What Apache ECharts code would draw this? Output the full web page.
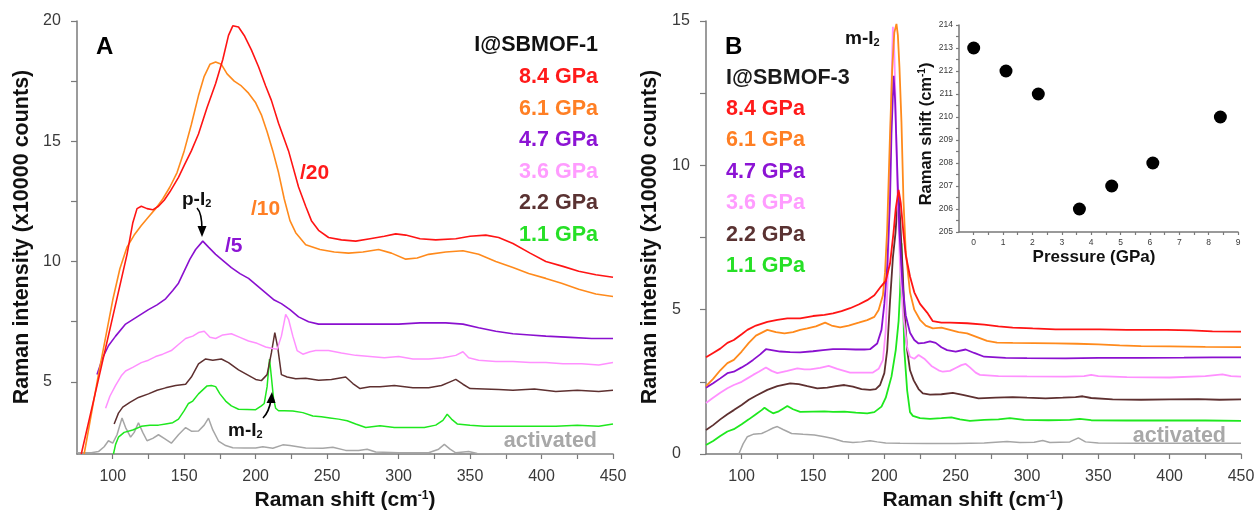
<!DOCTYPE html>
<html>
<head>
<meta charset="utf-8">
<script src="https://cdn.jsdelivr.net/npm/echarts@6/dist/echarts.min.js"></script>
<style>
html,body{margin:0;padding:0;background:#fff;}
#c{width:1259px;height:513px;}
</style>
</head>
<body>
<div id="c"></div>
<script>
// ---------- Panel A : I@SBMOF-1 (Raman shift cm-1, intensity x10000 counts) ----------
const A_84 = [[78,2.0],[90,5.1],[100,7.7],[110,10.3],[114,11.6],[117,12.2],[120,12.3],[124,12.2],[128,12.15],[132,12.3],[136,12.55],[140,12.9],[146,13.5],[150,14.0],[155,14.6],[160,15.3],[166,16.4],[172,17.4],[177,18.4],[181,19.4],[184,19.8],[188,19.75],[192,19.4],[197,18.8],[202,18.1],[207,17.3],[211,16.7],[216,15.75],[223,14.6],[230,13.1],[235,12.3],[239,11.7],[244,11.3],[251,11.0],[260,10.9],[270,10.85],[280,10.95],[290,11.05],[298,11.15],[305,11.1],[315,10.95],[326,10.9],[340,10.95],[350,11.05],[361,11.1],[370,11.0],[380,10.75],[392,10.35],[403,10.0],[415,9.8],[426,9.6],[438,9.45],[450,9.35]];
const A_61 = [[80,2.0],[90,5.3],[100,8.4],[105,9.7],[110,10.6],[115,11.1],[120,11.5],[125,11.85],[130,12.2],[135,12.6],[140,13.1],[145,13.7],[150,14.6],[155,15.7],[160,16.9],[164,17.7],[168,18.2],[172,18.3],[176,18.2],[180,17.8],[185,17.5],[190,17.3],[195,17.0],[200,16.6],[204,16.1],[208,15.4],[212,14.6],[216,13.7],[220,12.6],[224,11.7],[228,11.2],[235,10.7],[245,10.5],[255,10.4],[265,10.35],[275,10.4],[286,10.5],[295,10.35],[305,10.1],[313,10.15],[321,10.3],[333,10.4],[345,10.45],[356,10.3],[368,10.0],[380,9.75],[391,9.5],[403,9.3],[414,9.1],[426,8.85],[438,8.65],[450,8.55]];
const A_47 = [[89,5.3],[93,6.0],[97,6.5],[102,6.9],[109,7.4],[117,7.7],[125,8.0],[131,8.2],[137,8.45],[142,8.8],[146,9.1],[150,9.6],[154,10.1],[158,10.5],[163,10.85],[167,10.6],[172,10.3],[178,10.0],[183,9.75],[189,9.5],[195,9.3],[201,9.0],[207,8.7],[213,8.4],[218,8.25],[224,8.0],[230,7.7],[237,7.5],[244,7.4],[255,7.4],[270,7.4],[286,7.4],[300,7.4],[315,7.45],[333,7.45],[345,7.4],[356,7.25],[368,7.1],[380,7.0],[392,6.95],[403,6.9],[420,6.85],[435,6.8],[450,6.8]];
const A_36 = [[95,3.9],[98,4.4],[102,4.85],[106,5.25],[109,5.45],[114,5.6],[120,5.8],[125,5.9],[130,6.05],[135,6.15],[141,6.3],[146,6.55],[151,6.8],[156,6.9],[160,7.05],[164,7.1],[168,6.85],[172,6.8],[177,6.95],[183,7.0],[189,6.85],[195,6.7],[201,6.6],[207,6.45],[211,6.4],[215,6.35],[218,6.9],[221,7.8],[223,7.6],[226,6.9],[229,6.3],[233,6.15],[238,6.25],[242,6.3],[251,6.3],[260,6.2],[270,6.1],[280,6.05],[290,6.0],[300,6.05],[310,5.95],[321,5.95],[331,6.0],[340,6.1],[345,6.25],[349,6.0],[356,5.9],[368,5.85],[380,5.85],[392,5.8],[403,5.8],[415,5.75],[428,5.75],[440,5.7],[450,5.8]];
const A_22 = [[101,3.25],[104,3.7],[107,3.95],[112,4.15],[118,4.35],[125,4.5],[131,4.65],[137,4.75],[144,4.85],[151,4.9],[155,5.2],[160,5.75],[165,5.95],[170,5.9],[176,5.95],[181,5.8],[188,5.5],[194,5.3],[200,5.1],[204,5.05],[208,5.3],[211,6.2],[213.4,7.05],[215.5,6.4],[218,5.3],[222,5.2],[228,5.13],[235,5.15],[244,5.07],[253,5.1],[263,5.2],[268,4.93],[273,4.72],[280,4.8],[287,4.8],[297,4.85],[310,4.75],[321,4.75],[330,4.85],[336,5.0],[340,5.1],[345,4.9],[350,4.72],[360,4.7],[370,4.68],[380,4.65],[395,4.7],[410,4.6],[425,4.65],[440,4.6],[450,4.65]];
const A_11 = [[100.5,2.0],[102,2.4],[104,2.7],[108,2.9],[114,3.0],[120,3.15],[126,3.2],[132,3.2],[137,3.25],[142,3.3],[146,3.45],[150,3.8],[153,4.1],[156,4.2],[160,4.5],[166,4.83],[169,4.85],[172,4.8],[175,4.5],[179,4.2],[183,4.0],[188,3.86],[194,3.85],[200,3.84],[204,4.0],[206,4.1],[208,4.8],[209.7,5.95],[211,5.2],[212.5,4.3],[214,3.9],[216,3.8],[220,3.8],[226,3.79],[233,3.72],[240,3.58],[246,3.55],[252,3.5],[258,3.45],[264,3.38],[270,3.25],[277,3.1],[287,3.17],[297,3.1],[309,3.1],[318,3.1],[326,3.2],[331,3.4],[334,3.65],[337,3.45],[341,3.25],[350,3.2],[360,3.15],[370,3.15],[380,3.15],[395,3.15],[410,3.15],[425,3.2],[440,3.15],[450,3.25]];
const A_act = [[75,2.05],[85,2.05],[90,2.1],[94,2.3],[97,2.55],[100,2.45],[103,2.8],[106.5,3.5],[109,3.1],[112.5,2.7],[115,2.9],[118,3.3],[121,2.9],[124,2.55],[128,2.65],[132,2.8],[136,2.65],[141,2.45],[146,2.8],[151,3.1],[155,2.95],[160,2.96],[164,3.2],[167,3.49],[170,3.0],[174,2.54],[179,2.35],[184,2.26],[192,2.25],[200,2.25],[205,2.3],[212,2.24],[219,2.38],[224,2.35],[235,2.25],[247,2.24],[254,2.28],[263,2.15],[272,2.15],[278,2.2],[284,2.08],[300,2.05],[321,2.05],[328,2.2],[332,2.4],[336,2.2],[340,2.05],[349,2.1],[355,2.02],[370,2.0],[450,2.0]];

// ---------- Panel B : I@SBMOF-3 ----------
const B_84 = [[75,3.35],[80,3.5],[85,3.65],[90,3.85],[94.5,3.95],[100,4.15],[104,4.3],[110,4.45],[118,4.58],[125,4.65],[132,4.7],[141,4.7],[150,4.78],[158,4.82],[164,4.87],[170,4.95],[176,5.05],[182,5.18],[188,5.33],[193,5.5],[197.6,5.8],[201,6.0],[204,6.6],[206.4,7.65],[208,8.5],[210,9.15],[211.5,8.7],[213.4,7.65],[215,6.9],[218,6.15],[221,5.6],[225,5.2],[230,4.9],[234,4.6],[240,4.55],[246,4.55],[258,4.53],[270,4.48],[280,4.42],[290,4.38],[304,4.35],[320,4.32],[335,4.32],[351,4.32],[370,4.3],[385,4.3],[398,4.3],[415,4.28],[430,4.25],[450,4.24]];
const B_61 = [[75,2.35],[80,2.6],[85,2.9],[90,3.15],[94.5,3.26],[100,3.55],[105,3.85],[110,4.1],[118,4.3],[124,4.22],[130,4.18],[136,4.22],[141,4.3],[146,4.35],[152,4.42],[158.5,4.55],[163,4.45],[169,4.39],[175,4.45],[182,4.55],[188,4.64],[193,4.75],[196,4.99],[199,5.5],[200.5,6.3],[202,7.8],[204,11.1],[205.5,13.3],[207,14.6],[208.5,14.9],[209.5,14.5],[210.6,13.4],[212,11.5],[213.4,8.8],[215,7.0],[218,5.6],[221,5.0],[225,4.65],[229,4.45],[234,4.35],[240,4.38],[246,4.3],[252,4.22],[258,4.18],[265,4.05],[272,3.92],[279,3.86],[290,3.85],[305,3.84],[320,3.83],[335,3.82],[350,3.8],[365,3.76],[380,3.74],[400,3.73],[425,3.71],[450,3.7]];
const B_47 = [[75,2.3],[80,2.45],[85,2.62],[90,2.8],[94.5,2.85],[100,3.0],[104,3.12],[108,3.26],[113,3.45],[117,3.63],[121,3.6],[127,3.55],[134,3.53],[141,3.52],[150,3.56],[157,3.6],[164,3.63],[172,3.63],[180,3.62],[186,3.62],[190,3.63],[195,3.83],[198,4.3],[200,5.2],[202,6.5],[204,8.8],[205,11.1],[206.5,13.1],[207.5,12.3],[209,9.95],[210.5,7.8],[212.7,5.9],[215,4.8],[218,4.2],[221,3.95],[224,3.83],[228,3.85],[232,3.9],[236,3.85],[240,3.7],[244,3.6],[250,3.55],[257,3.62],[263,3.5],[270,3.37],[285,3.33],[300,3.32],[327,3.31],[350,3.33],[380,3.33],[410,3.34],[430,3.35],[450,3.35]];
const B_36 = [[75,1.77],[80,1.95],[85,2.12],[90,2.28],[94.5,2.39],[100,2.5],[104,2.62],[108,2.74],[112,2.85],[117,3.0],[121,2.88],[125,2.8],[132,2.88],[139,2.97],[144,2.93],[148,2.93],[155,2.98],[161,3.05],[167,2.95],[176,2.82],[184,2.82],[192,2.82],[196,2.95],[199,3.25],[201,4.3],[202.5,6.2],[204,9.95],[205.2,13.2],[206,14.8],[207,13.9],[207.8,12.3],[209,9.3],[211,6.5],[213,4.9],[216,3.7],[218,3.37],[221,3.3],[224,3.43],[228,3.3],[233,3.05],[238,2.9],[241,2.85],[246,2.88],[250,2.98],[254,3.08],[257,3.12],[260,3.0],[264,2.82],[267,2.74],[280,2.7],[300,2.69],[327,2.68],[340,2.7],[345,2.74],[350,2.7],[370,2.66],[400,2.65],[425,2.7],[437,2.76],[443,2.7],[450,2.68]];
const B_22 = [[75,0.83],[80,1.0],[85,1.2],[90,1.38],[94.5,1.52],[100,1.7],[105,1.88],[110,2.02],[118,2.22],[125,2.35],[134,2.45],[140,2.42],[146,2.35],[153,2.27],[160,2.3],[166,2.35],[172,2.39],[178,2.33],[184,2.25],[190,2.22],[194,2.25],[197,2.39],[200,2.8],[202,3.6],[204,5.3],[206,6.8],[207.8,7.65],[209,8.5],[210,8.9],[211,8.2],[212.7,6.5],[214,5.0],[216,3.6],[218,2.9],[220.6,2.55],[224,2.25],[227,2.1],[232,2.06],[240,2.07],[248,2.12],[255,2.05],[266,1.93],[278,1.95],[290,1.97],[300,1.95],[313,1.93],[325,1.95],[334,1.97],[339,2.0],[345,1.94],[360,1.89],[380,1.88],[400,1.89],[420,1.9],[435,1.88],[450,1.89]];
const B_11 = [[75,0.31],[80,0.45],[85,0.62],[90,0.78],[94.5,0.86],[100,1.03],[105,1.2],[110,1.38],[114,1.52],[116,1.6],[119,1.5],[122,1.41],[126,1.48],[129,1.57],[132,1.66],[136,1.55],[141,1.46],[150,1.47],[158,1.48],[164,1.46],[172,1.47],[180,1.43],[188,1.41],[193,1.45],[198,1.64],[201,1.95],[205,2.68],[208,3.6],[210,4.6],[211,5.6],[212,7.3],[213,5.6],[214,3.6],[216,2.2],[218,1.45],[220,1.32],[225,1.24],[232,1.22],[240,1.24],[247,1.27],[253,1.2],[260,1.15],[270,1.18],[280,1.2],[288,1.24],[298,1.18],[315,1.17],[330,1.18],[337,1.22],[345,1.17],[370,1.16],[400,1.16],[425,1.16],[450,1.15]];
const B_act = [[98,0.0],[101,0.35],[104,0.6],[108,0.68],[114,0.71],[118,0.8],[122,0.9],[125,0.95],[129,0.85],[135,0.71],[143,0.68],[151,0.66],[158,0.6],[164,0.54],[171,0.43],[178,0.4],[184,0.42],[190,0.46],[195,0.42],[201,0.38],[211,0.37],[230,0.36],[250,0.36],[270,0.38],[286,0.43],[295,0.4],[305,0.41],[311,0.47],[316,0.4],[330,0.42],[336,0.56],[341,0.42],[350,0.38],[380,0.37],[420,0.37],[450,0.37]];

// ---------- Inset : m-I2 band position vs pressure ----------
const insetPressure = [0, 1.1, 2.2, 3.6, 4.7, 6.1, 8.4];
const insetShift = [213, 212, 211, 206, 207, 208, 210];

// ---------- Tick labels ----------
const xLabelsRaman = [100,150,200,250,300,350,400,450];
const xTicksRaman = [100,125,150,175,200,225,250,275,300,325,350,375,400,425,450];
const yLabelsA = [5,10,15,20];
const yTicksA = [5,7.5,10,12.5,15,17.5,20];
const yLabelsB = [0,5,10,15];
const yTicksB = [0,2.5,5,7.5,10,12.5,15];
const insetXLabels = [0,1,2,3,4,5,6,7,8,9];
const insetYLabels = [205,206,207,208,209,210,211,212,213,214];

const pressures = ['8.4 GPa','6.1 GPa','4.7 GPa','3.6 GPa','2.2 GPa','1.1 GPa'];

const FONT = "'Liberation Sans', Arial, Helvetica, sans-serif";
const COL = {red:'#ff1414', orange:'#ff8a1c', purple:'#8a10cf', pink:'#ff90ff', brown:'#5e3030', green:'#1ee81e', gray:'#a6a6a6'};
const LEG = ['#ff1a1a','#ff7f24','#8c14d4','#ff9cff','#5a3232','#26e026'];
const axisCol = '#7a7a7a';

function mkX(gi, labels, ticks, min, max, lblSize, lblMargin, tickLen){
  return {type:'value', gridIndex:gi, min:min, max:max,
    axisLine:{show:true, onZero:false, lineStyle:{color:axisCol, width:1.5}},
    axisTick:{show:true, length:tickLen, customValues:ticks, lineStyle:{color:axisCol, width:1.2}},
    axisLabel:{show:true, customValues:labels, fontSize:lblSize, color:'#3a3a3a', fontFamily:FONT, margin:lblMargin},
    splitLine:{show:false}};
}
function mkY(gi, labels, ticks, min, max, lblSize, lblMargin, tickLen, align){
  return {type:'value', gridIndex:gi, min:min, max:max,
    axisLine:{show:true, onZero:false, lineStyle:{color:axisCol, width:1.5}},
    axisTick:{show:true, length:tickLen, customValues:ticks, lineStyle:{color:axisCol, width:1.2}},
    axisLabel:{show:true, customValues:labels, fontSize:lblSize, color:'#3a3a3a', fontFamily:FONT, margin:lblMargin, align:align},
    splitLine:{show:false}};
}
function line(data, color, xi, w){
  return {type:'line', data:data, xAxisIndex:xi, yAxisIndex:xi, showSymbol:false, symbol:'none',
    lineStyle:{color:color, width:w}, silent:true, animation:false, clip:true, z:3};
}

const insetXTicks = []; for (let v=0; v<=9; v+=0.5) insetXTicks.push(v);
const insetYTicks = []; for (let v=205; v<=214; v+=0.5) insetYTicks.push(v);

const series = [
  line(A_act, COL.gray, 0, 1.5), line(A_11, COL.green, 0, 1.5), line(A_22, COL.brown, 0, 1.5),
  line(A_36, COL.pink, 0, 1.5), line(A_47, COL.purple, 0, 1.6), line(A_61, COL.orange, 0, 1.6), line(A_84, COL.red, 0, 1.6),
  line(B_act, COL.gray, 1, 1.5), line(B_11, COL.green, 1, 1.8), line(B_22, COL.brown, 1, 1.8),
  line(B_36, COL.pink, 1, 1.8), line(B_47, COL.purple, 1, 1.8), line(B_61, COL.orange, 1, 1.8), line(B_84, COL.red, 1, 1.8),
  {type:'scatter', xAxisIndex:2, yAxisIndex:2, data: insetPressure.map((p,i)=>[p, insetShift[i]]),
   symbol:'circle', symbolSize:13, itemStyle:{color:'#000', opacity:1}, silent:true, animation:false, z:5}
];

const g = [];
function txt(x, y, text, opts){
  g.push(Object.assign({type:'text', x:x, y:y, silent:true, z:20,
    style:Object.assign({text:text, fontFamily:FONT, fontSize:21.5, fontWeight:'bold', fill:'#000', align:'left', verticalAlign:'middle'}, opts||{})}));
}
// panel letters
txt(96, 47, 'A', {fontSize:24});
txt(725, 47, 'B', {fontSize:24});
// panel A legend (right aligned)
txt(598, 45, 'I@SBMOF-1', {align:'right', fill:'#111'});
pressures.forEach((p,i)=> txt(598, 77 + i*31.6, p, {align:'right', fill:LEG[i]}));
// panel B legend (left aligned)
txt(726, 78, 'I@SBMOF-3', {fill:'#1a1a1a'});
pressures.forEach((p,i)=> txt(726, 109 + i*31.5, p, {fill:LEG[i]}));
// activated
txt(597, 441, 'activated', {align:'right', fill:'#a8a8a8'});
txt(1226, 436, 'activated', {align:'right', fill:'#a8a8a8'});
// scale factors
txt(300, 173, '/20', {fill:'#ff1a1a', fontSize:21});
txt(251, 209, '/10', {fill:'#ff7f24', fontSize:21});
txt(225, 246, '/5', {fill:'#8c14d4', fontSize:21});
// I2 labels with subscripts
const sub = {a:{fontFamily:FONT, fontSize:19, fontWeight:'bold', fill:'#111'}, s:{fontFamily:FONT, fontSize:11, fontWeight:'bold', fill:'#111', verticalAlign:'bottom'}};
g.push({type:'text', x:182, y:200, silent:true, z:20, style:{text:'{a|p-I}{s|2}', rich:sub, verticalAlign:'middle'}});
g.push({type:'text', x:228, y:431, silent:true, z:20, style:{text:'{a|m-I}{s|2}', rich:sub, verticalAlign:'middle'}});
g.push({type:'text', x:845, y:39, silent:true, z:20, style:{text:'{a|m-I}{s|2}', rich:sub, verticalAlign:'middle'}});
// arrows
g.push({type:'bezierCurve', silent:true, z:20, shape:{x1:197, y1:208, x2:202, y2:230, cpx1:202, cpy1:213}, style:{stroke:'#000', lineWidth:1.6, fill:null}});
g.push({type:'polygon', silent:true, z:20, shape:{points:[[197.5,226],[206.5,226],[202,237]]}, style:{fill:'#000'}});
g.push({type:'bezierCurve', silent:true, z:20, shape:{x1:263, y1:418, x2:271, y2:400, cpx1:269, cpy1:412}, style:{stroke:'#000', lineWidth:1.6, fill:null}});
g.push({type:'polygon', silent:true, z:20, shape:{points:[[266.5,403],[275.5,403],[272,392]]}, style:{fill:'#000'}});
// axis titles
const tt = {a:{fontFamily:FONT, fontSize:21, fontWeight:'bold', fill:'#111'}, s:{fontFamily:FONT, fontSize:12, fontWeight:'bold', fill:'#111', verticalAlign:'top'}};
g.push({type:'text', x:345, y:500, silent:true, z:20, style:{text:'{a|Raman shift (cm}{s|-1}{a|)}', rich:tt, align:'center', verticalAlign:'middle'}});
g.push({type:'text', x:973, y:500, silent:true, z:20, style:{text:'{a|Raman shift (cm}{s|-1}{a|)}', rich:tt, align:'center', verticalAlign:'middle'}});
g.push({type:'text', x:22, y:237, rotation:Math.PI/2, silent:true, z:20, style:{text:'Raman intensity (x10000 counts)', fontFamily:FONT, fontSize:21.5, fontWeight:'bold', fill:'#111', align:'center', verticalAlign:'middle'}});
g.push({type:'text', x:650, y:237, rotation:Math.PI/2, silent:true, z:20, style:{text:'Raman intensity (x10000 counts)', fontFamily:FONT, fontSize:21.5, fontWeight:'bold', fill:'#111', align:'center', verticalAlign:'middle'}});
// inset titles
const ti = {a:{fontFamily:FONT, fontSize:16.5, fontWeight:'bold', fill:'#111'}, s:{fontFamily:FONT, fontSize:10, fontWeight:'bold', fill:'#111', verticalAlign:'top'}};
g.push({type:'text', x:1094, y:257, silent:true, z:20, style:{text:'Pressure (GPa)', fontFamily:FONT, fontSize:17, fontWeight:'bold', fill:'#111', align:'center', verticalAlign:'middle'}});
g.push({type:'text', x:926, y:134, rotation:Math.PI/2, silent:true, z:20, style:{text:'{a|Raman shift (cm}{s|-1}{a|)}', rich:ti, align:'center', verticalAlign:'middle'}});

const option = {
  animation:false,
  backgroundColor:'#ffffff',
  grid:[
    {left:77, top:21, width:536, height:433, containLabel:false},
    {left:706, top:21, width:535, height:433, containLabel:false},
    {left:959, top:25, width:279, height:207, containLabel:false}
  ],
  xAxis:[
    mkX(0, xLabelsRaman, xTicksRaman, 75, 450, 16, 15, 5),
    mkX(1, xLabelsRaman, xTicksRaman, 75, 450, 16, 15, 5),
    mkX(2, insetXLabels, insetXTicks, -0.5, 9, 8.5, 6, 3)
  ],
  yAxis:[
    mkY(0, yLabelsA, yTicksA, 2, 20, 16, 34, 6, 'left'),
    mkY(1, yLabelsB, yTicksB, 0, 15, 16, 34, 6, 'left'),
    mkY(2, insetYLabels, insetYTicks, 205, 214, 8.5, 6, 3, 'right')
  ],
  series: series,
  graphic: g
};

const chart = echarts.init(document.getElementById('c'), null, {renderer:'canvas'});
chart.setOption(option);
</script>
</body>
</html>
